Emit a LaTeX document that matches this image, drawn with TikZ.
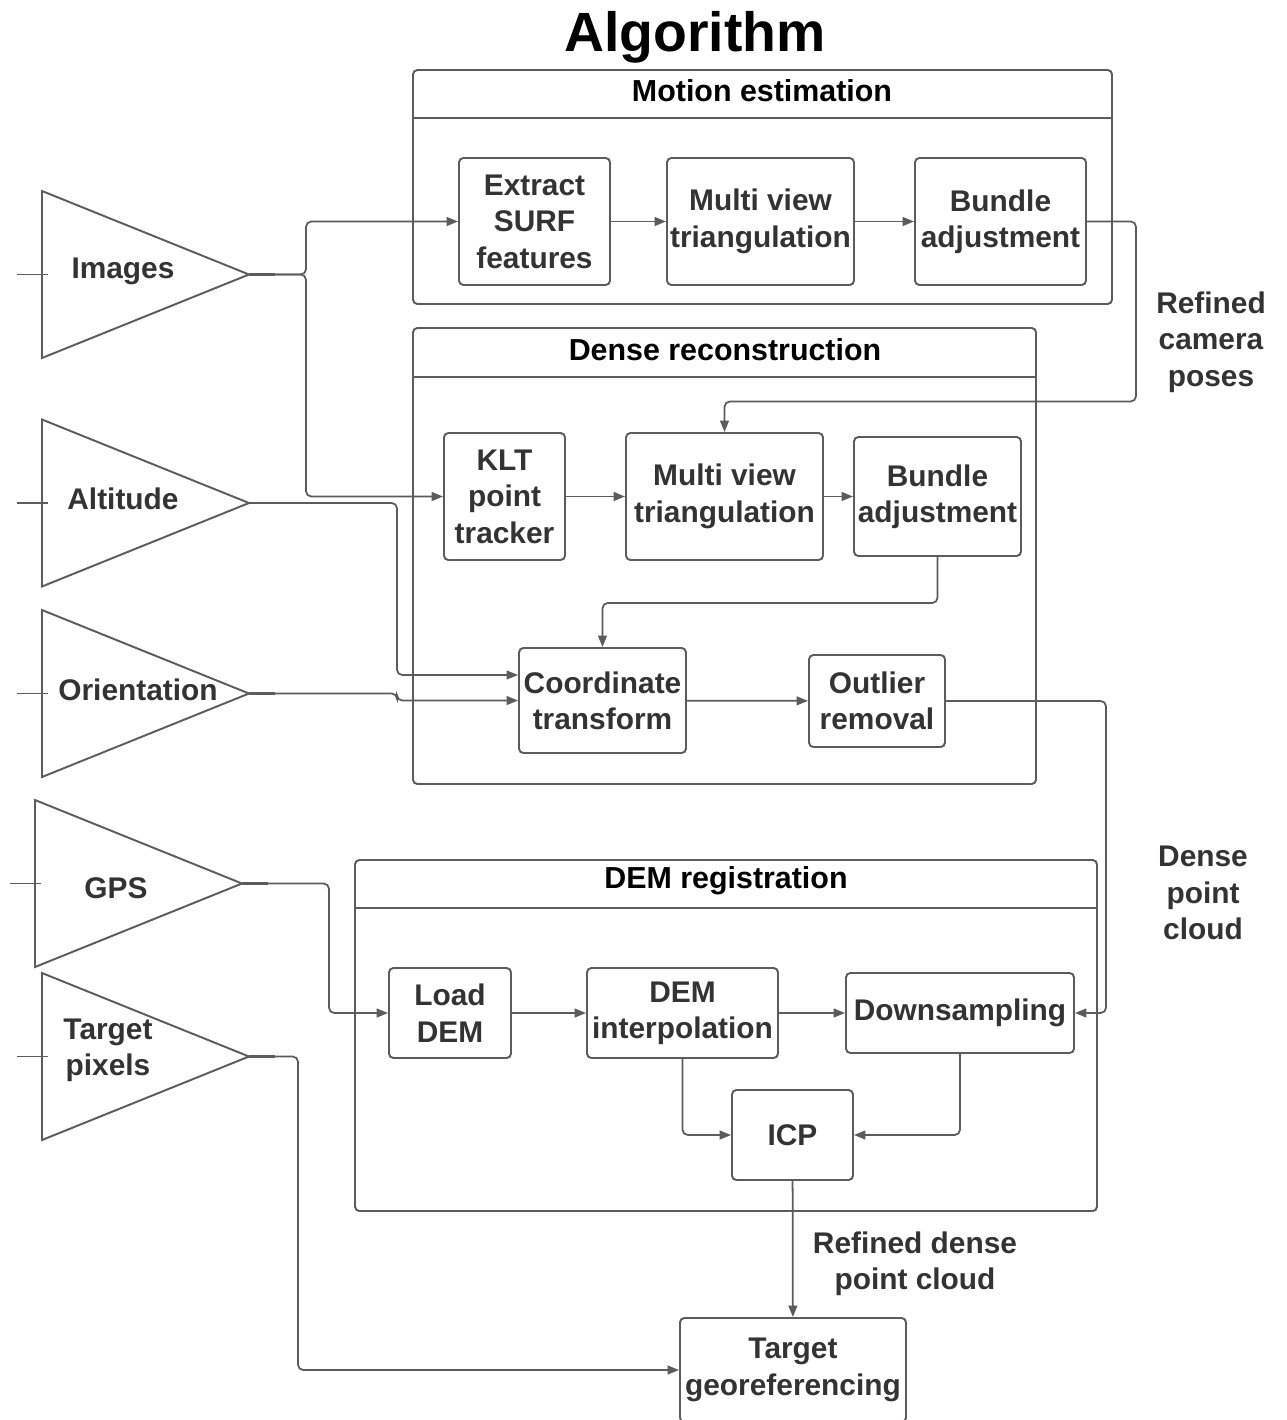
\documentclass[tikz,border=0pt]{standalone}
\usepackage{fontspec}
\setmainfont{Liberation Sans}
\usetikzlibrary{calc,arrows.meta,positioning}
\definecolor{linegray}{HTML}{5C5C5C}
\definecolor{textgray}{HTML}{333333}

\begin{document}
\begin{tikzpicture}[
    x=0.02cm, y=-0.02cm,
    every node/.style={text=textgray, font=\fontsize{17}{20.7}\selectfont\bfseries},
    stage/.style={draw=linegray, line width=1.1pt, rounded corners=2.5pt, align=center, inner sep=1pt},
    frame/.style={draw=linegray, line width=1.1pt, rounded corners=2.5pt},
    frametitle/.style={font=\fontsize{17.3}{20}\selectfont\bfseries, text=black},
    conn/.style={draw=linegray, line width=1pt, rounded corners=3pt, -{Triangle[length=6.5pt, width=5pt]}},
    port/.style={draw=linegray, line width=1.1pt},
    note/.style={align=center},
]
\useasboundingbox (0,0) rectangle (1286,1420);
\node[font=\fontsize{31.5}{36}\selectfont\bfseries, text=black] (title) at (695,37) {Algorithm};

% input ports
\foreach \nm/\xl/\yc/\lbl/\tx/\ty in {img/42/274.5/Images/123/271, alt/42/503/Altitude/123/499,
    ori/42/693.5/Orientation/138/690, gps/35/883.5/GPS/116/888, tpx/42/1056.5/{Target\\pixels}/108/1050} {
  \draw[port] (\xl,\yc-83.5) -- (\xl+207,\yc) -- (\xl,\yc+83.5) -- cycle;
  \draw[port] (\xl-25,\yc) -- (\xl+6,\yc);
  \draw[port, line width=1.5pt] (\xl+207,\yc) -- (\xl+233,\yc);
  \coordinate (\nm Out) at (\xl+207,\yc);
  \node[note] (\nm Lbl) at (\tx,\ty) {\lbl};
}

% motion estimation
\draw[frame] (413,70) rectangle (1112,304);
\draw[port] (413,118) -- (1112,118);
\node[frametitle] (meTitle) at (762,91) {Motion estimation};
\node[stage, minimum width=151*0.02cm, minimum height=127*0.02cm] (ext) at (534.5,221.5) {Extract\\SURF\\features};
\node[stage, minimum width=187*0.02cm, minimum height=127*0.02cm] (mvtA) at (760.5,221.5) {Multi view\\triangulation};
\node[stage, minimum width=171*0.02cm, minimum height=127*0.02cm] (baA) at (1000.5,221.5) {Bundle\\adjustment};

% dense reconstruction
\draw[frame] (413,328) rectangle (1036,784);
\draw[port] (413,377) -- (1036,377);
\node[frametitle] (drTitle) at (725,350) {Dense reconstruction};
\node[stage, minimum width=121*0.02cm, minimum height=127*0.02cm] (klt) at (504.5,496.5) {KLT\\point\\tracker};
\node[stage, minimum width=197*0.02cm, minimum height=127*0.02cm] (mvtB) at (724.5,496.5) {Multi view\\triangulation};
\node[stage, minimum width=167*0.02cm, minimum height=119*0.02cm] (baB) at (937.5,496.5) {Bundle\\adjustment};
\node[stage, minimum width=167*0.02cm, minimum height=105*0.02cm] (coord) at (602.5,700.5) {Coordinate\\transform};
\node[stage, minimum width=136*0.02cm, minimum height=92*0.02cm] (outl) at (877,701) {Outlier\\removal};

% DEM registration
\draw[frame] (355,860) rectangle (1097,1211);
\draw[port] (355,908) -- (1097,908);
\node[frametitle] (demTitle) at (726,881) {DEM registration};
\node[stage, minimum width=122*0.02cm, minimum height=90*0.02cm] (load) at (450,1013) {Load\\DEM};
\node[stage, minimum width=191*0.02cm, minimum height=90*0.02cm] (demi) at (682.5,1013) {DEM\\interpolation};
\node[stage, minimum width=228*0.02cm, minimum height=80*0.02cm] (down) at (960,1013) {Downsampling};
\node[stage, minimum width=121*0.02cm, minimum height=90*0.02cm] (icp) at (792.5,1135) {ICP};

\node[stage, minimum width=226*0.02cm, minimum height=104*0.02cm] (tgt) at (793,1370) {Target\\georeferencing};

% side labels
\node[note] (camLbl) at (1211,342) {Refined\\camera\\poses};
\node[note] (denseLbl) at (1203,893) {Dense\\point\\cloud};
\node[note] (refLbl) at (915,1264) {Refined dense\\point cloud};

% connectors
\draw[conn] (imgOut) -- ++(57,0) |- (ext.west);
\draw[conn] (imgOut) -- ++(57,0) |- (klt.west);
\draw[conn] (altOut) -- ++(148,0) |- ($(coord.west)+(0,-25.5)$);
\draw[conn] (oriOut) -- ++(148,0) |- (coord.west);
\draw[conn] (gpsOut) -- ++(87,0) |- (load.west);
\draw[conn] (tpxOut) -- ++(49,0) |- (tgt.west);

\draw[conn] (ext) -- (mvtA);
\draw[conn] (mvtA) -- (baA);
\draw[conn] (baA.east) -- ++(49,0) -- ++(0,180) -| (mvtB.north);
\draw[conn] (klt) -- (mvtB);
\draw[conn] (mvtB) -- (baB);
\draw[conn] (baB.south) -- ++(0,46) -| (coord.north);
\draw[conn] (coord) -- (outl);
\draw[conn] (outl.east) -- ++(160,0) |- (down.east);
\draw[conn] (load) -- (demi);
\draw[conn] (demi) -- (down);
\draw[conn] (demi.south) |- (icp.west);
\draw[conn] (down.south) |- (icp.east);
\draw[conn] (icp) -- (tgt);
\end{tikzpicture}
\end{document}
